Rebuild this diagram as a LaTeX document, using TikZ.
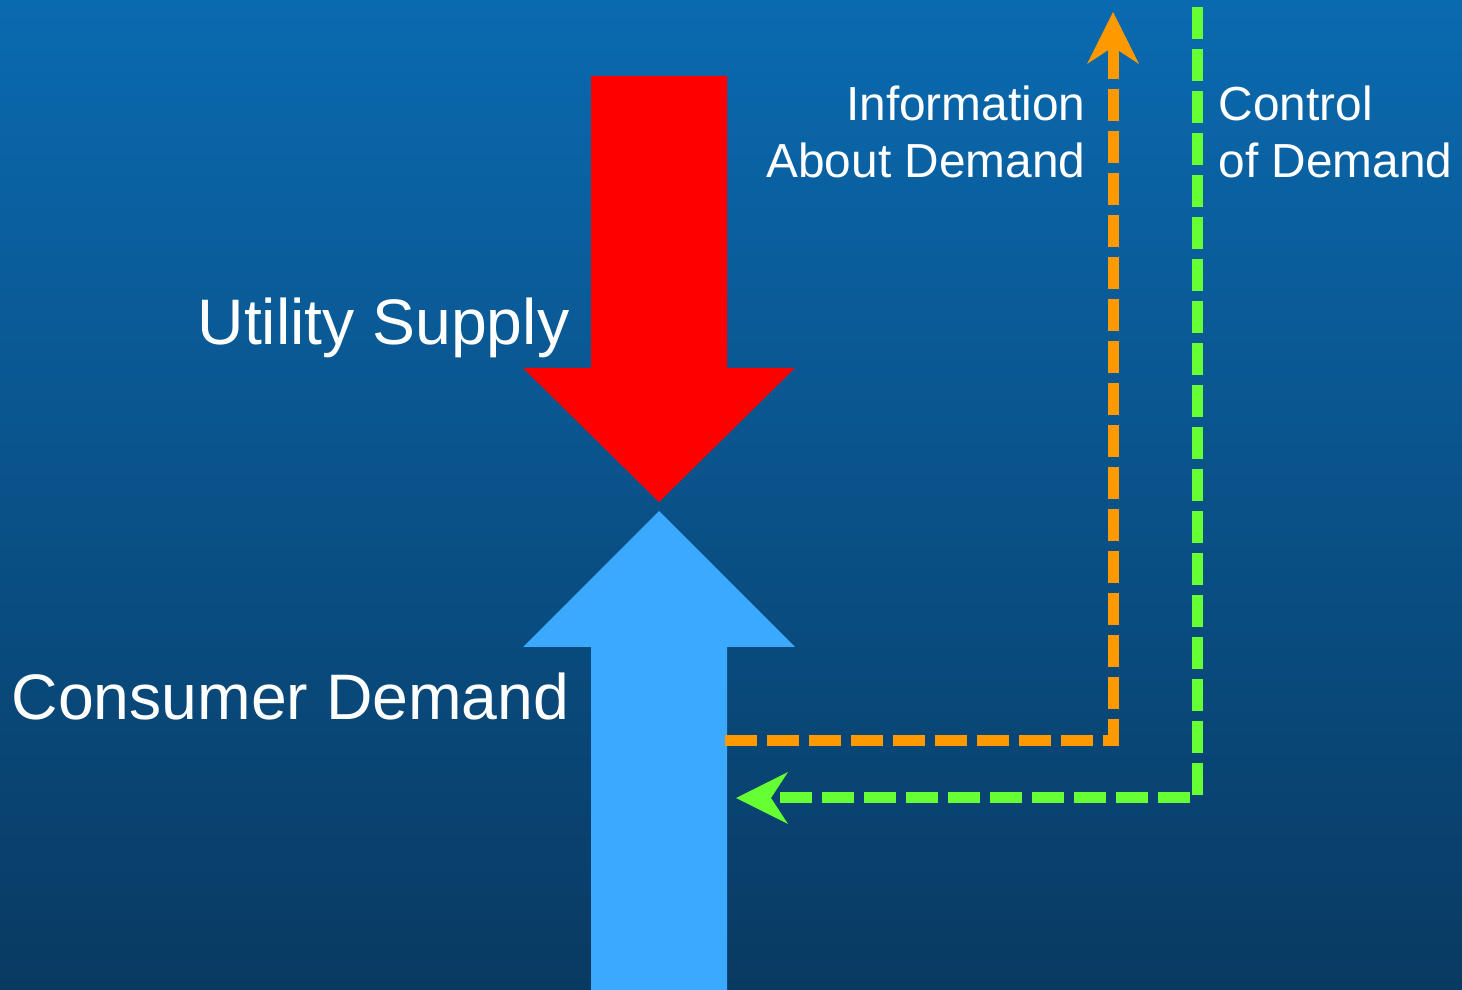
\documentclass[tikz,border=0pt]{standalone}
\usepackage{fontspec}
\setmainfont{Liberation Sans}
\usetikzlibrary{arrows.meta}
\definecolor{bgtop}{HTML}{0A6AB0}
\definecolor{bgbottom}{HTML}{093A62}
\definecolor{supplyred}{HTML}{FF0000}
\definecolor{demandblue}{HTML}{3AA9FF}
\definecolor{infoorange}{HTML}{FF9900}
\definecolor{controlgreen}{HTML}{66FF33}
\tikzset{
  biglabel/.style={text=white, inner sep=0pt, font=\fontsize{18.3}{22}\selectfont},
  smalllabel/.style={text=white, inner sep=0pt, font=\fontsize{13.6}{16.5}\selectfont},
  flowline/.style={line width=1.1mm, dash pattern=on 3.2mm off 1mm},
  flowtip/.style={-{Stealth[length=5.2mm,width=5.2mm,inset=1.7mm,line width=0pt]}}
}
\begin{document}
\begin{tikzpicture}[x=0.1mm,y=-0.1mm]
% background
\shade[top color=bgtop, bottom color=bgbottom] (0,0) rectangle (1462,990);
\useasboundingbox (0,0) rectangle (1462,990);
% supply arrow (down)
\fill[supplyred] (591,76) -- (727,76) -- (727,368) -- (795,368) -- (659,502)
  -- (523,368) -- (591,368) -- cycle;
% demand arrow (up)
\fill[demandblue] (659,511) -- (795,647) -- (727,647) -- (727,990)
  -- (591,990) -- (591,647) -- (523,647) -- cycle;
\node[biglabel, anchor=base east] (supply) at (570,345) {Utility Supply};
\node[biglabel, anchor=base east] (demand) at (570,720) {Consumer Demand};
% information and control lines
\coordinate (info start) at (725,741);
\coordinate (info end) at (1113,12);
\coordinate (control start) at (1197,7);
\coordinate (control end) at (736,798);
\draw[flowline, flowtip, infoorange] (info start) -| (info end);
\draw[flowline, flowtip, controlgreen] (control start) |- (control end);
\node[smalllabel, anchor=base east, align=right] (info) at (1086,178)
  {Information\\About Demand};
\node[smalllabel, anchor=base west, align=left] (control) at (1218,178)
  {Control\\of Demand};
\end{tikzpicture}
\end{document}
